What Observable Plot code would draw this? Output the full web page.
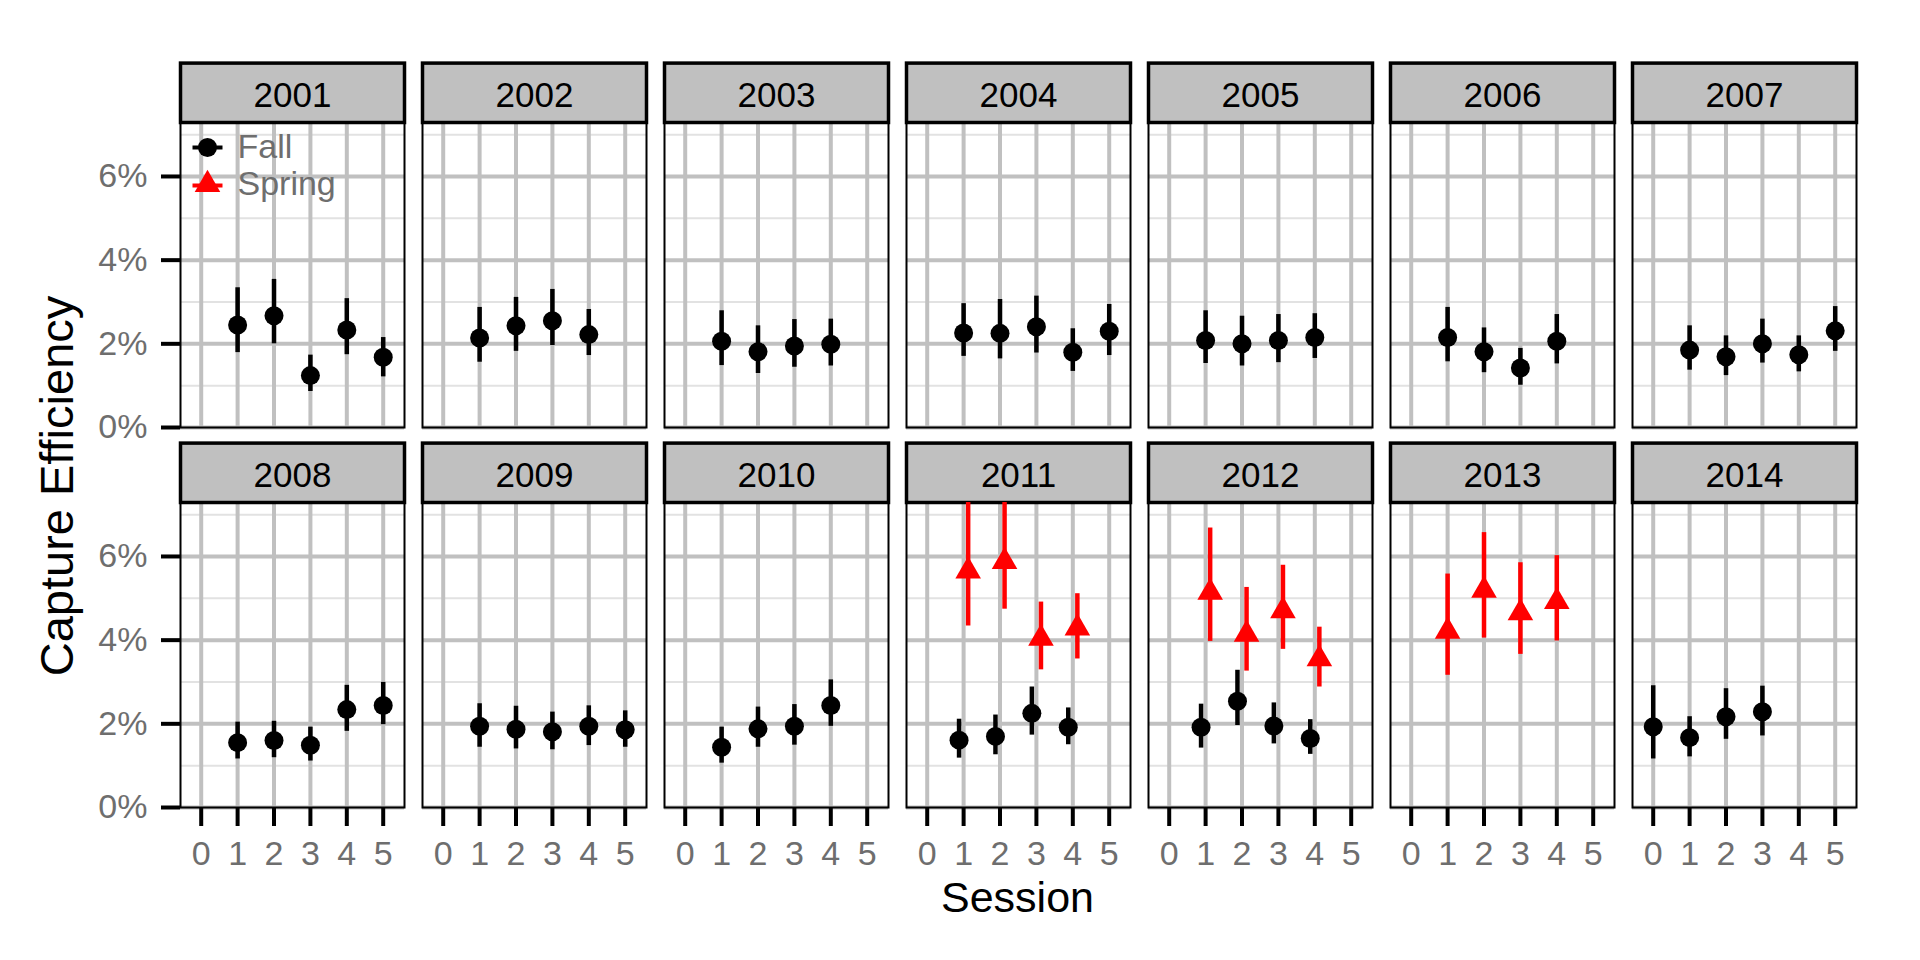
<!DOCTYPE html>
<html>
<head>
<meta charset="utf-8">
<script src="https://cdn.jsdelivr.net/npm/d3@7"></script>
<script src="https://cdn.jsdelivr.net/npm/@observablehq/plot@0.6"></script>
<style>
  html, body { margin: 0; padding: 0; background: #fff; }
  #chart { width: 1920px; height: 960px; }
</style>
</head>
<body>
<div id="chart"></div>
<script>
// ---- data (percent) ----
const years = [2001, 2002, 2003, 2004, 2005, 2006, 2007, 2008, 2009, 2010, 2011, 2012, 2013, 2014];

const fallYear    = [2001,2001,2001,2001,2001, 2002,2002,2002,2002, 2003,2003,2003,2003, 2004,2004,2004,2004,2004, 2005,2005,2005,2005, 2006,2006,2006,2006, 2007,2007,2007,2007,2007, 2008,2008,2008,2008,2008, 2009,2009,2009,2009,2009, 2010,2010,2010,2010, 2011,2011,2011,2011, 2012,2012,2012,2012, 2014,2014,2014,2014];
const fallSession = [1,2,3,4,5, 1,2,3,4, 1,2,3,4, 1,2,3,4,5, 1,2,3,4, 1,2,3,4, 1,2,3,4,5, 1,2,3,4,5, 1,2,3,4,5, 1,2,3,4, 1,2,3,4, 1,2,3,4, 0,1,2,3];
const fallEst     = [2.45,2.67,1.24,2.33,1.68, 2.14,2.43,2.55,2.22, 2.06,1.81,1.95,1.99, 2.26,2.25,2.41,1.80,2.30, 2.08,2.00,2.08,2.15, 2.15,1.81,1.42,2.06, 1.85,1.69,2.00,1.74,2.31, 1.55,1.60,1.49,2.34,2.44, 1.94,1.87,1.81,1.94,1.86, 1.44,1.88,1.94,2.44, 1.61,1.70,2.25,1.92, 1.92,2.54,1.95,1.65, 1.93,1.67,2.17,2.29];
const fallLo      = [1.79,2.00,0.86,1.74,1.21, 1.56,1.82,1.96,1.72, 1.48,1.29,1.44,1.47, 1.70,1.64,1.78,1.34,1.72, 1.53,1.47,1.55,1.65, 1.57,1.31,1.01,1.52, 1.37,1.24,1.54,1.33,1.82, 1.16,1.19,1.11,1.82,1.98, 1.44,1.40,1.38,1.48,1.44, 1.06,1.44,1.49,1.94, 1.18,1.26,1.73,1.50, 1.42,1.96,1.52,1.27, 1.16,1.21,1.63,1.71];
const fallHi      = [3.34,3.54,1.73,3.08,2.15, 2.87,3.11,3.30,2.82, 2.79,2.43,2.58,2.59, 2.96,3.06,3.14,2.36,2.94, 2.79,2.66,2.70,2.72, 2.87,2.38,1.89,2.70, 2.43,2.19,2.59,2.19,2.89, 2.04,2.06,1.92,2.92,2.99, 2.48,2.42,2.28,2.43,2.31, 1.92,2.40,2.46,3.05, 2.11,2.21,2.88,2.38, 2.47,3.28,2.50,2.10, 2.91,2.17,2.84,2.90];

const springYear    = [2011,2011,2011,2011, 2012,2012,2012,2012, 2013,2013,2013,2013];
const springSession = [1,2,3,4, 1,2,3,4, 1,2,3,4];
const springEst     = [5.65,5.88,4.04,4.29, 5.14,4.14,4.70,3.55, 4.21,5.19,4.65,4.92];
const springLo      = [4.34,4.74,3.29,3.55, 3.97,3.26,3.78,2.88, 3.16,4.05,3.66,3.98];
const springHi      = [7.60,7.50,4.91,5.11, 6.68,5.26,5.79,4.31, 5.58,6.57,5.85,6.02];

const seasons = ["Fall", "Spring"];
const seasonColors = ["#000000", "#ff0000"];
const seasonSymbols = ["circle", "triangle"];

const sessionTicks = [0, 1, 2, 3, 4, 5];
const yMajor = [0, 2, 4, 6];
const yMinor = [1, 3, 5, 7];

// ---- layout ----
const W = 1920, H = 960;
const mLeft = 179, mRight = 64, mTop = 121.7, mBottom = 153.3;
const nCols = 7;
const panelH = 305, stripH = 59.4;
const dodge = 0.125;

// ---- build table ----
const fallRows = fallYear.map((y, i) => ({year: y, session: fallSession[i], est: fallEst[i], lo: fallLo[i], hi: fallHi[i], season: "Fall"}));
const springRows = springYear.map((y, i) => ({year: y, session: springSession[i], est: springEst[i], lo: springLo[i], hi: springHi[i], season: "Spring"}));
const bothYears = new Set(fallYear.filter(y => springYear.includes(y)));
const rows = fallRows.concat(springRows).map(d => {
  const idx = years.indexOf(d.year);
  const off = bothYears.has(d.year) ? (d.season === "Fall" ? -dodge : dodge) : 0;
  return {...d, x: d.session + off, col: idx % nCols, row: Math.floor(idx / nCols)};
});
const strips = years.map((y, idx) => ({year: String(y), col: idx % nCols, row: Math.floor(idx / nCols)}));
const bottomLabels = d3.range(nCols).flatMap(c => sessionTicks.map(s => ({s, label: String(s), col: c, row: 1})));
const legendFall = [{label: seasons[0], col: 0, row: 0}];
const legendSpring = [{label: seasons[1], col: 0, row: 0}];

const lineSymbol = {
  draw(ctx, size) {
    const h = Math.sqrt(size / Math.PI);
    ctx.moveTo(-h, 0);
    ctx.lineTo(h, 0);
  }
};

const FONT = "'Liberation Sans', Arial, Helvetica, sans-serif";
const GRAY_TEXT = "#6e6e6e";

const chart = Plot.plot({
  width: W,
  height: H,
  marginLeft: mLeft,
  marginRight: mRight,
  marginTop: mTop,
  marginBottom: mBottom,
  style: {fontFamily: FONT, fontSize: "34px", background: "white", overflow: "visible"},
  fx: {domain: d3.range(nCols), axis: null, paddingInner: 18 / 242, paddingOuter: 0},
  fy: {domain: [0, 1], axis: null, paddingInner: 75 / 380, paddingOuter: 0},
  x: {domain: [-0.569, 5.585]},
  y: {domain: [0, 7.29]},
  color: {domain: seasons, range: seasonColors},
  symbol: {domain: seasons, range: seasonSymbols},
  marks: [
    Plot.gridY(yMinor, {stroke: "#e2e2e2", strokeOpacity: 1, strokeWidth: 2}),
    Plot.gridY(yMajor, {stroke: "#c0c0c0", strokeOpacity: 1, strokeWidth: 4}),
    Plot.gridX(sessionTicks, {stroke: "#c0c0c0", strokeOpacity: 1, strokeWidth: 4}),
    Plot.frame({stroke: "black", strokeWidth: 2}),
    Plot.frame({fill: "#c0c0c0", stroke: "black", strokeWidth: 3.5, insetTop: -stripH, insetBottom: panelH}),
    Plot.text(strips, {fx: "col", fy: "row", text: "year", frameAnchor: "top", dy: -26.5, lineAnchor: "middle", fontSize: 35, fill: "black"}),
    Plot.ruleX(rows, {x: "x", y1: "lo", y2: "hi", fx: "col", fy: "row", stroke: "season", strokeWidth: 4.5, clip: true}),
    Plot.dot(rows, {x: "x", y: "est", fx: "col", fy: "row", symbol: "season", fill: "season", r: 9.5, stroke: "none"}),
    // legend (inside first panel)
    Plot.dot(legendFall, {fx: "col", fy: "row", frameAnchor: "top-left", dx: 27, dy: 25, symbol: lineSymbol, r: 15, stroke: seasonColors[0], strokeWidth: 4, fill: "none"}),
    Plot.dot(legendFall, {fx: "col", fy: "row", frameAnchor: "top-left", dx: 27, dy: 25, symbol: seasonSymbols[0], r: 9.5, fill: seasonColors[0]}),
    Plot.text(legendFall, {fx: "col", fy: "row", text: "label", frameAnchor: "top-left", dx: 57, dy: 25, textAnchor: "start", lineAnchor: "middle", fontSize: 34, fill: GRAY_TEXT}),
    Plot.dot(legendSpring, {fx: "col", fy: "row", frameAnchor: "top-left", dx: 27, dy: 63, symbol: lineSymbol, r: 15, stroke: seasonColors[1], strokeWidth: 4, fill: "none"}),
    Plot.dot(legendSpring, {fx: "col", fy: "row", frameAnchor: "top-left", dx: 27, dy: 62, symbol: seasonSymbols[1], r: 9.5, fill: seasonColors[1]}),
    Plot.text(legendSpring, {fx: "col", fy: "row", text: "label", frameAnchor: "top-left", dx: 57, dy: 62, textAnchor: "start", lineAnchor: "middle", fontSize: 34, fill: GRAY_TEXT}),
    // axes
    Plot.axisY({ticks: yMajor, tickFormat: d => d + "%", tickSize: 19, tickPadding: 14, stroke: "black", strokeWidth: 4, fill: GRAY_TEXT, fontSize: 34, label: null}),
    Plot.axisX({ticks: sessionTicks, tickFormat: () => "", tickSize: 19, stroke: "black", strokeWidth: 4, label: null}),
    Plot.text(bottomLabels, {x: "s", fx: "col", fy: "row", text: "label", frameAnchor: "bottom", dy: 47, lineAnchor: "middle", fontSize: 34, fill: GRAY_TEXT})
  ]
});

document.getElementById("chart").appendChild(chart);

// axis titles
const svg = d3.select(chart);
const plotLeft = mLeft, plotRight = W - mRight;
svg.append("text")
  .attr("x", (plotLeft + plotRight) / 2)
  .attr("y", 911.7)
  .attr("text-anchor", "middle")
  .attr("font-family", FONT)
  .attr("font-size", 43)
  .attr("fill", "black")
  .text("Session");
svg.append("text")
  .attr("transform", "translate(73,486) rotate(-90)")
  .attr("text-anchor", "middle")
  .attr("font-family", FONT)
  .attr("font-size", 47)
  .attr("fill", "black")
  .text("Capture Efficiency");
</script>
</body>
</html>
